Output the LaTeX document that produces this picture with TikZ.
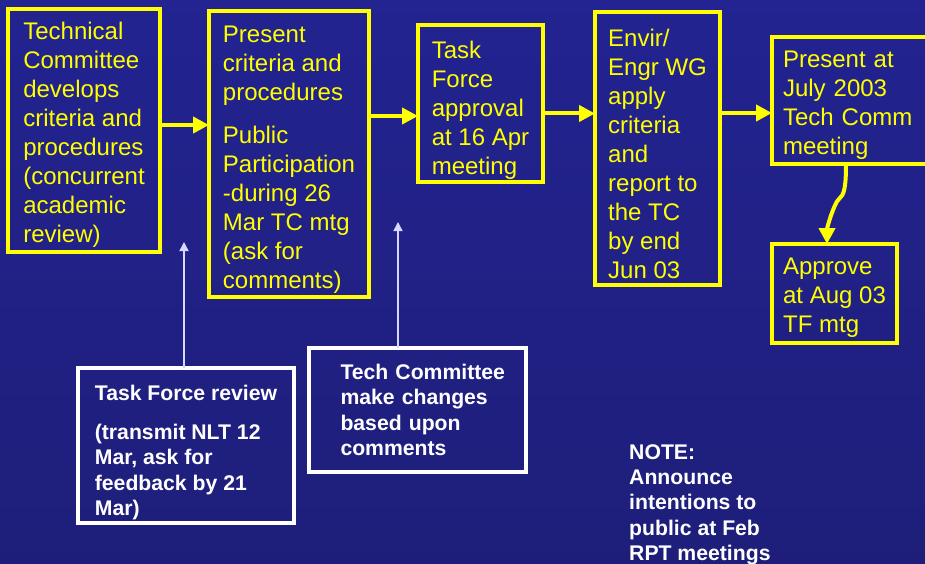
\documentclass[tikz,border=0pt]{standalone}
\usepackage{fontspec}
\setmainfont{Liberation Sans}
\usetikzlibrary{arrows.meta}
\definecolor{bgtop}{RGB}{35,35,145}
\definecolor{bgmid}{RGB}{52,52,205}
\definecolor{bgbot}{RGB}{30,30,122}
\definecolor{ylw}{RGB}{255,255,0}
\definecolor{lav}{RGB}{215,215,255}
\begin{document}
\begin{tikzpicture}[x=1pt,y=-1pt,
  ybox/.style={draw=ylw,line width=3.5pt,text=ylw,anchor=north west,align=left,
    inner sep=0pt,outer sep=0pt,font=\fontsize{24}{29}\selectfont},
  wbox/.style={draw=white,line width=3.5pt,text=white,anchor=north west,align=left,
    inner sep=0pt,outer sep=0pt,font=\fontsize{21.2}{25.5}\selectfont\bfseries},
  yarrow/.style={draw=ylw,line width=4pt,-{Triangle[length=16pt,width=16pt]}},
  warrow/.style={draw=lav,line width=1.5pt,-{Triangle[length=9pt,width=9pt]}}]
\useasboundingbox (0,0) rectangle (925,564);
\shade[top color=bgtop,middle color=bgmid,bottom color=bgbot] (0,0) rectangle (925,564);

% yellow steps
\node[ybox,minimum width=152pt,minimum height=243pt] (tcdev) at (8,9)
  {\rule{0pt}{26pt}Technical\\Committee\\develops\\criteria and\\procedures\\(concurrent\\academic\\review)};
\node[ybox,minimum width=160pt,minimum height=286pt] (present) at (209,11)
  {\rule{0pt}{28pt}Present\\criteria and\\procedures\\[14pt]Public\\Participation\\-during 26\\Mar TC mtg\\(ask for\\comments)};
\node[ybox,minimum width=125pt,minimum height=157pt] (tfapp) at (418,25)
  {\rule{0pt}{30pt}Task\\Force\\approval\\at 16 Apr\\meeting};
\node[ybox,minimum width=125pt,minimum height=273pt] (apply) at (595,12)
  {\rule{0pt}{29pt}Envir/\\Engr WG\\apply\\criteria\\and\\report to\\the TC\\by end\\Jun 03};
\node[ybox,inner xsep=11pt,text width=148pt,minimum width=170pt,minimum height=127pt] (july) at (772,37)
  {\rule{0pt}{25pt}Present at\\July 2003\\Tech Comm\\meeting};
\node[ybox,minimum width=125pt,minimum height=99pt] (aug) at (772,244)
  {\rule{0pt}{24pt}Approve\\at Aug 03\\TF mtg};

\draw[yarrow] ([yshift=5.5pt]tcdev.east) -- ([yshift=29pt]present.west);
\draw[yarrow] ([yshift=38pt]present.east) -- ([yshift=-12.5pt]tfapp.west);
\draw[yarrow] ([yshift=-10pt]tfapp.east) -- ([yshift=35pt]apply.west);
\draw[yarrow] ([yshift=35.5pt]apply.east) -- ([yshift=-12.5pt]july.west);
\coordinate (kink) at (839,199);
\draw[yarrow] ([xshift=-11pt]july.south) .. controls +(0,24) and +(5,-4) .. (kink)
  .. controls +(-5,4) and +(0,-16) .. ([xshift=-7.5pt]aug.north);

% white boxes
\node[wbox,minimum width=216pt,minimum height=155pt] (tfrev) at (78,368)
  {\rule{0pt}{29pt}Task Force review\\[13.5pt](transmit NLT 12\\Mar, ask for\\feedback by 21\\Mar)};
\node[wbox,inner xsep=15.5pt,text width=186pt,minimum width=217pt,minimum height=124pt] (tcchg) at (309,348)
  {\leftskip=16pt Tech Committee\\make changes\\based upon\\comments\par};
\coordinate (tfend) at (184,242);
\coordinate (tcend) at (398,222);
\draw[warrow] (tfend |- tfrev.north) -- (tfend);
\draw[warrow] (tcend |- tcchg.north) -- (tcend);

\node[anchor=north west,align=left,text=white,inner sep=0pt,
  font=\fontsize{21.2}{25.4}\selectfont\bfseries] (note) at (629,444)
  {NOTE:\\Announce\\intentions to\\public at Feb\\RPT meetings};
\end{tikzpicture}
\end{document}
